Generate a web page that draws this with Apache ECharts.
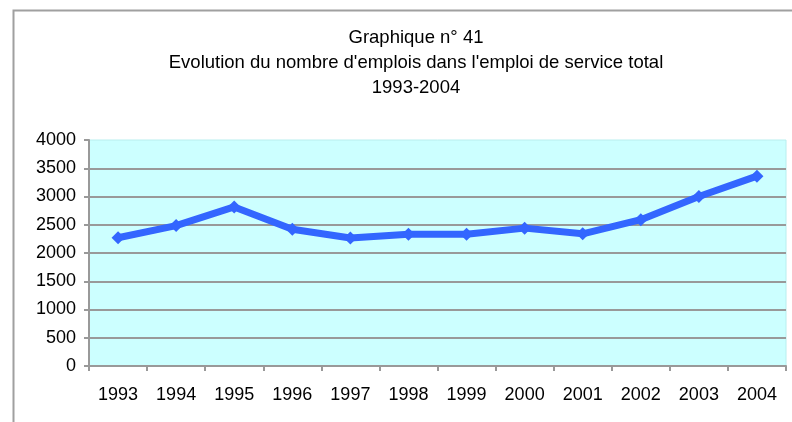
<!DOCTYPE html>
<html>
<head>
<meta charset="utf-8">
<script src="https://cdn.jsdelivr.net/npm/echarts@6/dist/echarts.min.js"></script>
<style>
html,body{margin:0;padding:0;background:#fff;}
#chart{width:792px;height:422px;}
</style>
</head>
<body>
<div id="chart"></div>
<script>
const titleLines = ["Graphique n° 41", "Evolution du nombre d'emplois dans l'emploi de service total", "1993-2004"];
const years = ["1993","1994","1995","1996","1997","1998","1999","2000","2001","2002","2003","2004"];
const emplois = [2270, 2485, 2815, 2420, 2265, 2330, 2330, 2440, 2340, 2590, 3000, 3360];

const chart = echarts.init(document.getElementById('chart'), null, {renderer:'canvas'});
const font = 'Liberation Sans, Arial, sans-serif';
chart.setOption({
  animation: false,
  backgroundColor: '#fff',
  title: {
    text: titleLines.join('\n'),
    left: 411, top: 20, textAlign: 'center',
    textStyle: {fontFamily: font, fontSize: 18.5, fontWeight: 'normal', color: '#000', lineHeight: 25}
  },
  graphic: [{
    type: 'rect', left: 11, top: 8, shape: {width: 820, height: 500},
    style: {fill: 'none', stroke: '#a0a0a0', lineWidth: 2}, silent: true
  }],
  grid: {
    left: 89, right: 6, top: 140, bottom: 56,
    show: true, backgroundColor: '#ccffff', borderColor: '#b8eeee', borderWidth: 1
  },
  xAxis: {
    type: 'category', data: years, boundaryGap: true,
    axisLine: {lineStyle: {color: '#999', width: 2}},
    axisTick: {show: true, length: 5, alignWithLabel: false, lineStyle: {color: '#999', width: 2}},
    axisLabel: {fontFamily: font, fontSize: 18, color: '#000', margin: 20}
  },
  yAxis: {
    type: 'value', min: 0, max: 4000, interval: 500,
    axisLine: {show: true, lineStyle: {color: '#999', width: 2}},
    axisTick: {show: true, length: 5, lineStyle: {color: '#999', width: 2}},
    axisLabel: {fontFamily: font, fontSize: 18, color: '#000', margin: 13, formatter: v => String(v)},
    splitLine: {show: true, showMaxLine: false, lineStyle: {color: '#999', width: 2}}
  },
  series: [{
    type: 'line', data: emplois,
    lineStyle: {color: '#3366ff', width: 7},
    itemStyle: {color: '#3366ff'},
    symbol: 'diamond', symbolSize: 13, showSymbol: true
  }]
});
</script>
</body>
</html>
